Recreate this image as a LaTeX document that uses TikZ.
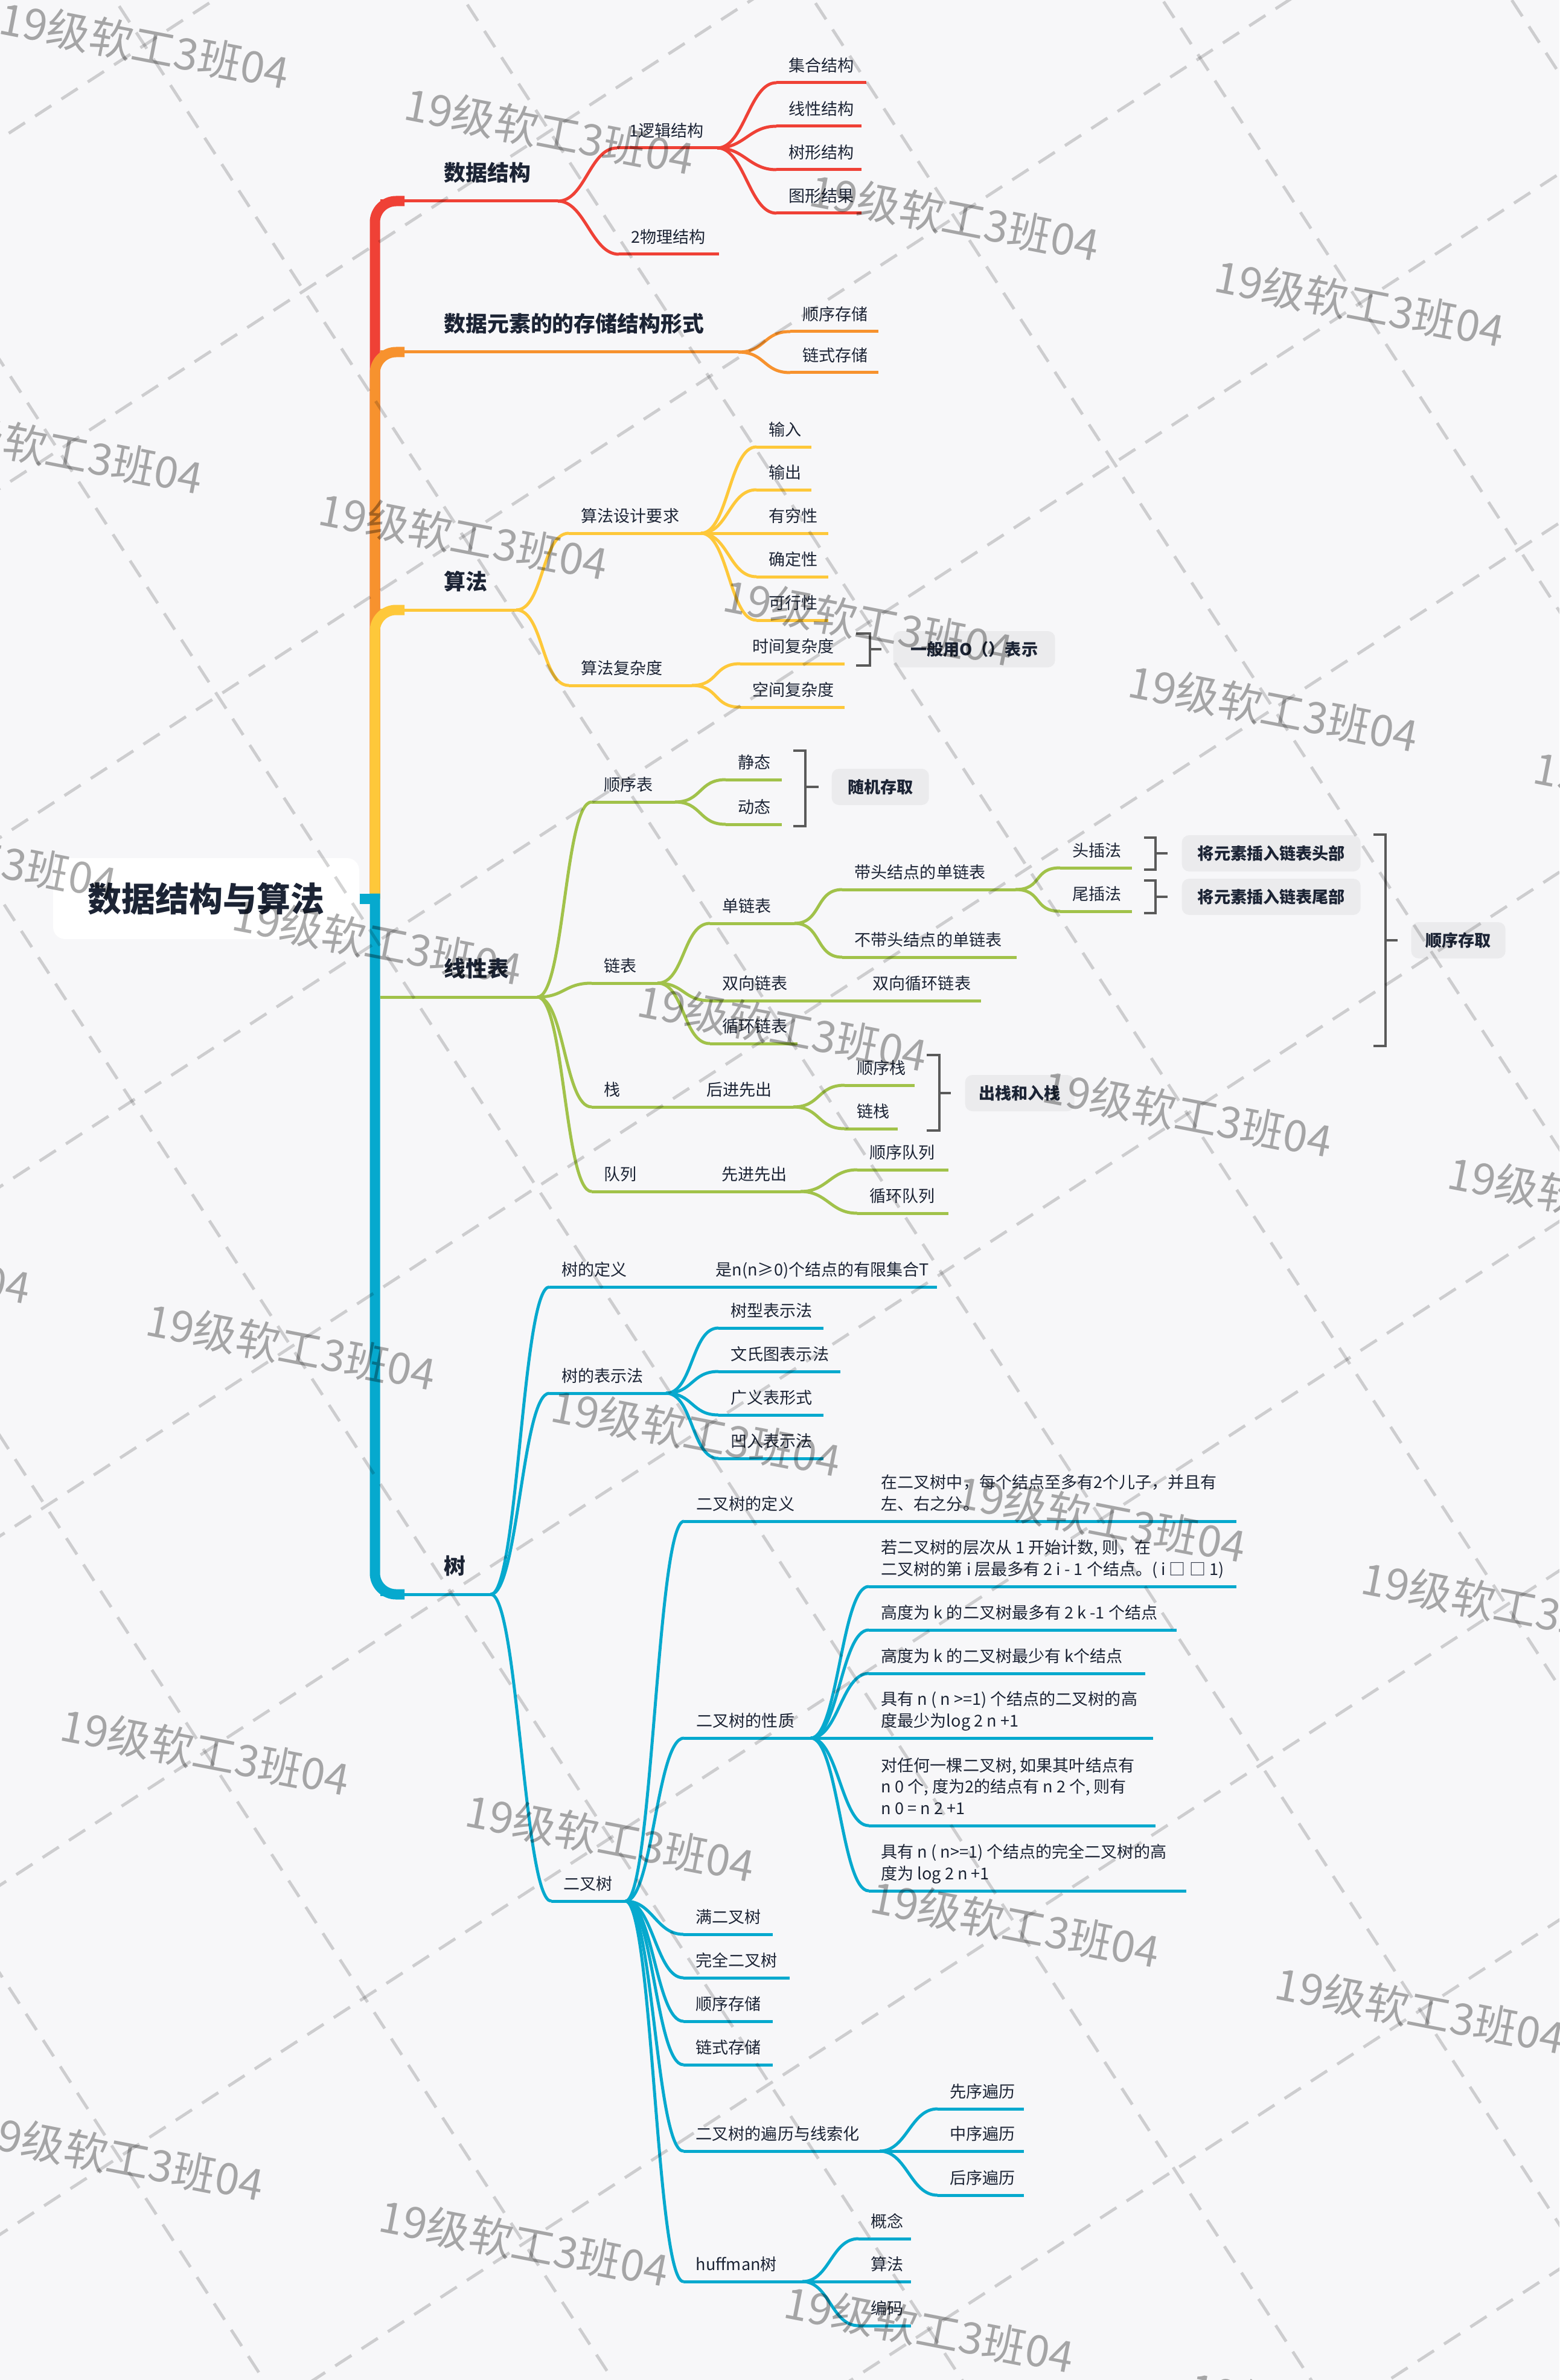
\documentclass[tikz,border=0pt]{standalone}
\usepackage{fontspec}
\setmainfont{Noto Sans CJK SC}
\usetikzlibrary{positioning}
\definecolor{mapred}{HTML}{EF4136}
\definecolor{maporange}{HTML}{F7922E}
\definecolor{mapyellow}{HTML}{FEC83A}
\definecolor{mapgreen}{HTML}{A1C24A}
\definecolor{mapblue}{HTML}{06A9CE}
\definecolor{ink}{HTML}{1C2435}
\definecolor{canvasbg}{HTML}{F7F7F9}
\definecolor{boxgrey}{HTML}{EBEBED}
\definecolor{bracegrey}{HTML}{5A5A5A}
\newcommand\mmleaf{\fontsize{7.7pt}{10.2pt}\selectfont}
\newcommand\mmmain{\fontsize{10.2pt}{12pt}\selectfont\bfseries}
\newcommand\mmroot{\fontsize{15.9pt}{19pt}\selectfont\bfseries}
\newcommand\mmmark{\fontsize{20.4pt}{24pt}\selectfont}
\tikzset{
  branch/.style={line width=0.05cm, draw=#1},
  spine/.style={line width=0.17cm, draw=#1, rounded corners=0.35cm},
  bar/.style={rectangle, fill=#1, inner sep=0pt, outer sep=0pt, minimum height=0.05cm, anchor=west},
  leaf/.style={font=\mmleaf, text=ink, inner sep=0pt, anchor=south west, text depth=0pt, align=left, xshift=0.2cm, yshift=0.15cm},
  headleaf/.style={font=\mmmain, text=ink, inner sep=0pt, anchor=south west, text depth=0pt, xshift=1.05cm, yshift=0.30cm},
  sumbox/.style={rectangle, rounded corners=0.12cm, fill=boxgrey, font=\mmleaf\bfseries, text=ink, minimum height=0.6cm, inner xsep=0.22cm, anchor=west},
  brace/.style={line width=0.045cm, draw=bracegrey},
  gridline/.style={draw=black, opacity=0.17, line width=0.05cm, dash pattern=on 0.32cm off 0.2cm},
  wmark/.style={font=\mmmark, text=black, opacity=0.33, rotate=-11, inner sep=0pt},
}
\begin{document}
\begin{tikzpicture}[x=1cm,y=-1cm]
  \useasboundingbox (0,0) rectangle (25.83,39.41);
  \fill[canvasbg] (0,0) rectangle (25.83,39.41);
  \coordinate (hub) at (6.21,14.88);
  \node[rectangle, rounded corners=0.2cm, fill=white, minimum width=5.07cm, minimum height=1.34cm, font=\mmroot, text=ink] (root) at (3.415,14.88) {数据结构与算法};

  % 数据结构
  \node[bar=mapred, minimum width=2.94cm, label={[headleaf]north west:数据结构}] (ds) at (6.30,3.33) {};
  \node[bar=mapred, minimum width=1.66cm, label={[leaf]north west:1逻辑结构}] (lj) at (10.22,2.45) {};
  \node[bar=mapred, minimum width=1.66cm, label={[leaf]north west:2物理结构}] (wl) at (10.25,4.21) {};
  \node[bar=mapred, minimum width=1.49cm, label={[leaf]north west:集合结构}] (jh) at (12.86,1.37) {};
  \node[bar=mapred, minimum width=1.41cm, label={[leaf]north west:线性结构}] (xj) at (12.86,2.09) {};
  \node[bar=mapred, minimum width=1.41cm, label={[leaf]north west:树形结构}] (sx) at (12.86,2.81) {};
  \node[bar=mapred, minimum width=1.41cm, label={[leaf]north west:图形结果}] (tx) at (12.86,3.53) {};

  % 存储结构
  \node[bar=maporange, minimum width=5.93cm, label={[headleaf]north west:数据元素的的存储结构形式}] (cc) at (6.30,5.83) {};
  \node[bar=maporange, minimum width=1.46cm, label={[leaf]north west:顺序存储}] (sxcc) at (13.09,5.49) {};
  \node[bar=maporange, minimum width=1.46cm, label={[leaf]north west:链式存储}] (lscc) at (13.09,6.17) {};

  % 算法
  \node[bar=mapyellow, minimum width=2.25cm, label={[headleaf]north west:算法}] (sf) at (6.30,10.10) {};
  \node[bar=mapyellow, minimum width=2.19cm, label={[leaf]north west:算法设计要求}] (sjyq) at (9.42,8.83) {};
  \node[bar=mapyellow, minimum width=2.04cm, label={[leaf]north west:算法复杂度}] (fzd) at (9.42,11.35) {};
  \node[bar=mapyellow, minimum width=0.91cm, label={[leaf]north west:输入}] (sr) at (12.53,7.40) {};
  \node[bar=mapyellow, minimum width=0.91cm, label={[leaf]north west:输出}] (sc) at (12.53,8.11) {};
  \node[bar=mapyellow, minimum width=1.19cm, label={[leaf]north west:有穷性}] (yq) at (12.53,8.83) {};
  \node[bar=mapyellow, minimum width=1.19cm, label={[leaf]north west:确定性}] (qd) at (12.53,9.55) {};
  \node[bar=mapyellow, minimum width=1.19cm, label={[leaf]north west:可行性}] (kx) at (12.53,10.27) {};
  \node[bar=mapyellow, minimum width=1.73cm, label={[leaf]north west:时间复杂度}] (sjfz) at (12.26,10.99) {};
  \node[bar=mapyellow, minimum width=1.73cm, label={[leaf]north west:空间复杂度}] (kjfz) at (12.26,11.71) {};
  \node[sumbox, minimum width=2.68cm] (ybo) at (14.79,10.75) {一般用O（）表示};

  % 线性表
  \node[bar=mapgreen, minimum width=2.60cm, label={[headleaf]north west:线性表}] (xxb) at (6.30,16.51) {};
  \node[bar=mapgreen, minimum width=1.38cm, label={[leaf]north west:顺序表}] (sxb) at (9.80,13.28) {};
  \node[bar=mapgreen, minimum width=0.93cm, label={[leaf]north west:静态}] (jt) at (12.02,12.91) {};
  \node[bar=mapgreen, minimum width=0.93cm, label={[leaf]north west:动态}] (dt) at (12.02,13.65) {};
  \node[sumbox, minimum width=1.61cm] (sjcq) at (13.77,13.03) {随机存取};
  \node[bar=mapgreen, minimum width=1.09cm, label={[leaf]north west:链表}] (lb) at (9.80,16.28) {};
  \node[bar=mapgreen, minimum width=1.40cm, label={[leaf]north west:单链表}] (dlb) at (11.76,15.29) {};
  \node[bar=mapgreen, minimum width=2.87cm, label={[leaf]north west:带头结点的单链表}] (dtj) at (13.95,14.73) {};
  \node[bar=mapgreen, minimum width=2.89cm, label={[leaf]north west:不带头结点的单链表}] (bdt) at (13.95,15.85) {};
  \node[bar=mapgreen, minimum width=1.19cm, label={[leaf]north west:头插法}] (tcf) at (17.56,14.37) {};
  \node[bar=mapgreen, minimum width=1.19cm, label={[leaf]north west:尾插法}] (wcf) at (17.56,15.09) {};
  \node[sumbox, minimum width=2.96cm] (trt) at (19.57,14.13) {将元素插入链表头部};
  \node[sumbox, minimum width=2.96cm] (trw) at (19.57,14.85) {将元素插入链表尾部};
  \node[sumbox, minimum width=1.56cm] (sxcq) at (23.37,15.57) {顺序存取};
  \node[bar=mapgreen, minimum width=2.49cm, label={[leaf]north west:双向链表}] (sxl) at (11.76,16.57) {};
  \node[bar=mapgreen, minimum width=2.00cm, right=0pt of sxl, label={[leaf]north west:双向循环链表}] (sxxh) {};
  \node[bar=mapgreen, minimum width=1.45cm, label={[leaf]north west:循环链表}] (xhlb) at (11.76,17.28) {};
  \node[bar=mapgreen, minimum width=1.70cm, label={[leaf]north west:栈}] (zhan) at (9.80,18.33) {};
  \node[bar=mapgreen, minimum width=1.64cm, right=0pt of zhan, label={[leaf]north west:后进先出}] (hjxc) {};
  \node[bar=mapgreen, minimum width=1.16cm, label={[leaf]north west:顺序栈}] (sxz) at (13.99,17.97) {};
  \node[bar=mapgreen, minimum width=0.88cm, label={[leaf]north west:链栈}] (lz) at (13.99,18.69) {};
  \node[sumbox, minimum width=1.81cm] (crz) at (15.98,18.10) {出栈和入栈};
  \node[bar=mapgreen, minimum width=1.95cm, label={[leaf]north west:队列}] (dl) at (9.80,19.73) {};
  \node[bar=mapgreen, minimum width=1.51cm, right=0pt of dl, label={[leaf]north west:先进先出}] (xjxc) {};
  \node[bar=mapgreen, minimum width=1.51cm, label={[leaf]north west:顺序队列}] (sxdl) at (14.20,19.37) {};
  \node[bar=mapgreen, minimum width=1.51cm, label={[leaf]north west:循环队列}] (xhdl) at (14.20,20.09) {};

  % 树
  \node[bar=mapblue, minimum width=1.83cm, label={[headleaf]north west:树}] (shu) at (6.30,26.40) {};
  \node[bar=mapblue, minimum width=2.55cm, label={[leaf]north west:树的定义}] (sdy) at (9.10,21.31) {};
  \node[bar=mapblue, minimum width=3.87cm, right=0pt of sdy, label={[leaf]north west:是n(n≥0)个结点的有限集合T}] (sdyx) {};
  \node[bar=mapblue, minimum width=1.93cm, label={[leaf]north west:树的表示法}] (sbs) at (9.10,23.07) {};
  \node[bar=mapblue, minimum width=1.74cm, label={[leaf]north west:树型表示法}] (sxbs) at (11.90,21.99) {};
  \node[bar=mapblue, minimum width=2.02cm, label={[leaf]north west:文氏图表示法}] (wst) at (11.90,22.71) {};
  \node[bar=mapblue, minimum width=1.74cm, label={[leaf]north west:广义表形式}] (gyb) at (11.90,23.43) {};
  \node[bar=mapblue, minimum width=1.74cm, label={[leaf]north west:凹入表示法}] (arb) at (11.90,24.15) {};
  \node[bar=mapblue, minimum width=1.23cm, label={[leaf]north west:二叉树}] (ecs) at (9.13,31.48) {};
  \node[bar=mapblue, minimum width=3.06cm, label={[leaf]north west:二叉树的定义}] (ecdy) at (11.33,25.19) {};
  \node[bar=mapblue, minimum width=6.09cm, right=0pt of ecdy, label={[leaf]north west:{在二叉树中，每个结点至多有2个儿子，并且有\\左、右之分。}}] (ecdyx) {};
  \node[bar=mapblue, minimum width=2.10cm, label={[leaf]north west:二叉树的性质}] (ecxz) at (11.33,28.78) {};
  \node[bar=mapblue, minimum width=6.09cm, label={[leaf]north west:{若二叉树的层次从 1 开始计数, 则，在\\二叉树的第 i 层最多有 2 i - 1 个结点。( i □ □ 1)}}] (xz1) at (14.39,26.27) {};
  \node[bar=mapblue, minimum width=5.10cm, label={[leaf]north west:{高度为 k 的二叉树最多有 2 k -1 个结点}}] (xz2) at (14.39,26.99) {};
  \node[bar=mapblue, minimum width=4.58cm, label={[leaf]north west:{高度为 k 的二叉树最少有 k个结点}}] (xz3) at (14.39,27.71) {};
  \node[bar=mapblue, minimum width=4.71cm, label={[leaf]north west:{具有 n ( n >=1) 个结点的二叉树的高\\度最少为log 2 n +1}}] (xz4) at (14.39,28.78) {};
  \node[bar=mapblue, minimum width=4.75cm, label={[leaf]north west:{对任何一棵二叉树, 如果其叶结点有\\n 0 个, 度为2的结点有 n 2 个, 则有\\n 0 = n 2 +1}}] (xz5) at (14.39,30.23) {};
  \node[bar=mapblue, minimum width=5.26cm, label={[leaf]north west:{具有 n ( n>=1) 个结点的完全二叉树的高\\度为 log 2 n +1}}] (xz6) at (14.39,31.31) {};
  \node[bar=mapblue, minimum width=1.48cm, label={[leaf]north west:满二叉树}] (mec) at (11.32,32.03) {};
  \node[bar=mapblue, minimum width=1.76cm, label={[leaf]north west:完全二叉树}] (wqec) at (11.32,32.75) {};
  \node[bar=mapblue, minimum width=1.48cm, label={[leaf]north west:顺序存储}] (sxcc2) at (11.32,33.47) {};
  \node[bar=mapblue, minimum width=1.48cm, label={[leaf]north west:链式存储}] (lscc2) at (11.32,34.19) {};
  \node[bar=mapblue, minimum width=3.25cm, label={[leaf]north west:二叉树的遍历与线索化}] (bl) at (11.32,35.62) {};
  \node[bar=mapblue, minimum width=1.43cm, label={[leaf]north west:先序遍历}] (xxbl) at (15.53,34.92) {};
  \node[bar=mapblue, minimum width=1.43cm, label={[leaf]north west:中序遍历}] (zxbl) at (15.53,35.62) {};
  \node[bar=mapblue, minimum width=1.43cm, label={[leaf]north west:后序遍历}] (hxbl) at (15.53,36.35) {};
  \node[bar=mapblue, minimum width=1.97cm, label={[leaf]north west:huffman树}] (hfm) at (11.32,37.78) {};
  \node[bar=mapblue, minimum width=0.87cm, label={[leaf]north west:概念}] (gn) at (14.22,37.07) {};
  \node[bar=mapblue, minimum width=0.87cm, label={[leaf]north west:算法}] (sfa) at (14.22,37.78) {};
  \node[bar=mapblue, minimum width=0.87cm, label={[leaf]north west:编码}] (bm) at (14.22,38.51) {};

  % spine
  \draw[spine=mapred] (hub) |- ([xshift=0.4cm]ds.west);
  \draw[spine=maporange] (hub) |- ([xshift=0.4cm]cc.west);
  \draw[spine=mapyellow] (hub) |- ([xshift=0.4cm]sf.west);
  \draw[line width=0.17cm, draw=mapblue] (root.east) -- (hub);
  \draw[spine=mapblue] ([yshift=0.085cm]hub) |- ([xshift=0.4cm]shu.west);

  % connectors
  \foreach \a/\b in {ds/lj, ds/wl, lj/jh, lj/xj, lj/sx, lj/tx}
    \draw[branch=mapred] (\a.east) .. controls +(0.45,0) and +(-0.45,0) .. (\b.west);
  \foreach \a/\b in {cc/sxcc, cc/lscc}
    \draw[branch=maporange] (\a.east) .. controls +(0.45,0) and +(-0.45,0) .. (\b.west);
  \foreach \a/\b in {sf/sjyq, sf/fzd, sjyq/sr, sjyq/sc, sjyq/yq, sjyq/qd, sjyq/kx, fzd/sjfz, fzd/kjfz}
    \draw[branch=mapyellow] (\a.east) .. controls +(0.45,0) and +(-0.45,0) .. (\b.west);
  \foreach \a/\b in {xxb/sxb, xxb/lb, xxb/zhan, xxb/dl, sxb/jt, sxb/dt, lb/dlb, lb/sxl, lb/xhlb, dlb/dtj, dlb/bdt, dtj/tcf, dtj/wcf, hjxc/sxz, hjxc/lz, xjxc/sxdl, xjxc/xhdl}
    \draw[branch=mapgreen] (\a.east) .. controls +(0.45,0) and +(-0.45,0) .. (\b.west);
  \foreach \a/\b in {shu/sdy, shu/sbs, shu/ecs, sbs/sxbs, sbs/wst, sbs/gyb, sbs/arb, ecs/ecdy, ecs/ecxz, ecs/mec, ecs/wqec, ecs/sxcc2, ecs/lscc2, ecs/bl, ecs/hfm, ecxz/xz1, ecxz/xz2, ecxz/xz3, ecxz/xz4, ecxz/xz5, ecxz/xz6, bl/xxbl, bl/zxbl, bl/hxbl, hfm/gn, hfm/sfa, hfm/bm}
    \draw[branch=mapblue] (\a.east) .. controls +(0.45,0) and +(-0.45,0) .. (\b.west);

  % brackets
  \coordinate (ya) at (14.18,10.49);
  \coordinate (yb) at (14.18,11.02);
  \draw[brace] (ya) -- ++(0.23,0) |- (yb);
  \draw[brace] ([xshift=-0.38cm]ybo.west) -- ([xshift=-0.19cm]ybo.west);
  \coordinate (sa) at (13.14,12.43);
  \coordinate (sb) at (13.14,13.68);
  \draw[brace] (sa) -- ++(0.20,0) |- (sb);
  \draw[brace] ([xshift=-0.43cm]sjcq.west) -- ([xshift=-0.21cm]sjcq.west);
  \coordinate (ta) at (18.95,13.87);
  \coordinate (tb) at (18.95,14.40);
  \draw[brace] (ta) -- ++(0.19,0) |- (tb);
  \draw[brace] ([xshift=-0.43cm]trt.west) -- ([xshift=-0.23cm]trt.west);
  \coordinate (wa) at (18.95,14.58);
  \coordinate (wb) at (18.95,15.12);
  \draw[brace] (wa) -- ++(0.19,0) |- (wb);
  \draw[brace] ([xshift=-0.43cm]trw.west) -- ([xshift=-0.23cm]trw.west);
  \coordinate (qa) at (22.75,13.82);
  \coordinate (qb) at (22.75,17.32);
  \draw[brace] (qa) -- ++(0.20,0) |- (qb);
  \draw[brace] ([xshift=-0.42cm]sxcq.west) -- ([xshift=-0.22cm]sxcq.west);
  \coordinate (za) at (15.35,17.47);
  \coordinate (zb) at (15.35,18.72);
  \draw[brace] (za) -- ++(0.21,0) |- (zb);
  \draw[brace] ([xshift=-0.42cm]crz.west) -- ([xshift=-0.23cm]crz.west);

  % watermark
  \begin{scope}
    \clip (0,0) rectangle (25.83,39.41);
    \begin{scope}[rotate=33]
      \foreach \k in {-6,...,5}
        \draw[gridline] ({1.60+4.85*\k},-3) -- ({1.60+4.85*\k},50);
      \foreach \m in {-1,...,10}
        \draw[gridline] (-25,{1.93+4.85*\m}) -- (25,{1.93+4.85*\m});
      \foreach \k in {-6,...,5}
        \foreach \m in {-1,...,10} {
          \pgfmathtruncatemacro\wsum{\k+\m}
          \ifodd\wsum\else
            \node[wmark] at ({1.60+4.85*\k},{1.93+4.85*\m}) {19级软工3班04};
          \fi
        }
    \end{scope}
  \end{scope}
\end{tikzpicture}
\end{document}
